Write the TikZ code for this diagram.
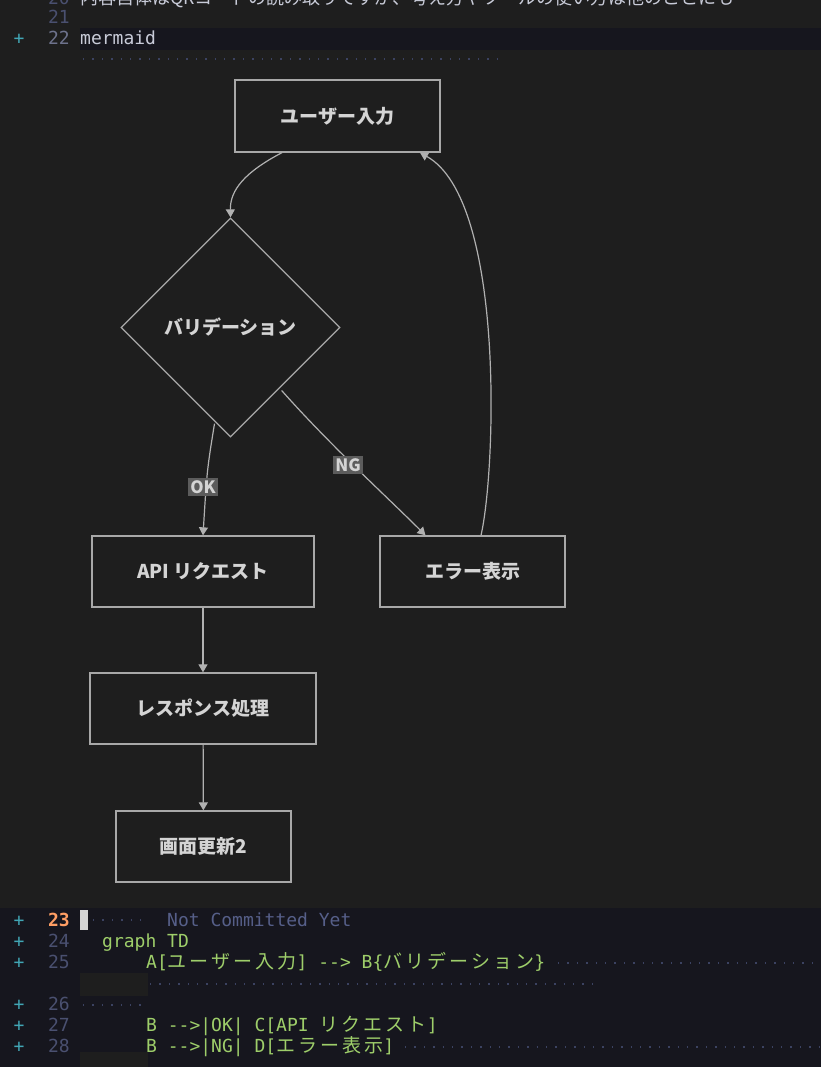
\documentclass[tikz,border=0pt]{standalone}
\usepackage{fontspec}
\setmainfont{Noto Sans CJK JP}
\newfontfamily\mono{DejaVu Sans Mono}
\newfontfamily\cjk{Noto Sans CJK JP}
\newfontfamily\cjkcode[LetterSpace=16]{Noto Sans CJK JP}
\usetikzlibrary{arrows.meta,calc,shapes.geometric}
\definecolor{bgtop}{HTML}{1E1E1E}
\definecolor{bgcode}{HTML}{16161E}
\definecolor{ln}{HTML}{4A5070}
\definecolor{lnact}{HTML}{FF9E64}
\definecolor{plus}{HTML}{41A6B5}
\definecolor{codeg}{HTML}{9ECE6A}
\definecolor{cmt}{HTML}{565F89}
\definecolor{dots}{HTML}{3B4261}
\definecolor{boxline}{HTML}{A8A8A8}
\definecolor{boxtext}{HTML}{D4D4D4}
\definecolor{lblbg}{HTML}{5C5C5C}
\definecolor{toptext}{HTML}{C8CBD8}
\newcommand{\jc}[1]{{\cjkcode\fontsize{19}{20}\selectfont #1}}
\begin{document}
\begin{tikzpicture}[x=1pt,y=-1pt,
  box/.style={draw=boxline,line width=1.3pt,fill=bgtop,text=boxtext,font=\fontsize{19}{21}\selectfont\bfseries,inner sep=0pt},
  edge/.style={draw=boxline!90!white,line width=1.2pt,-{Triangle[length=8pt,width=9pt]}},
  lbl/.style={fill=lblbg,text=boxtext,font=\fontsize{17}{19}\selectfont\bfseries,inner sep=2pt},
  codet/.style={anchor=base west,inner sep=0pt,font=\mono\fontsize{18}{20}\selectfont},
  lnum/.style={anchor=base east,inner sep=0pt,font=\mono\fontsize{18}{20}\selectfont,text=ln},
  pl/.style={anchor=base,inner sep=0pt,font=\mono\fontsize{18}{20}\selectfont,text=plus},
  dotl/.style={dots,line width=1.4pt,dash pattern=on 1.4pt off 8pt}]
\fill[bgtop] (0,0) rectangle (821,1067);
\useasboundingbox (0,0) rectangle (821,1067);
% top editor lines (line 20 is cut by the window edge)
\begin{scope}
\clip (0,0) rectangle (821,1067);
\node[anchor=base west,inner sep=0pt,text=toptext,font=\cjk\fontsize{18}{20}\selectfont] (t20) at (80,5) {内容自体はQRコードの読み取りですが、考え方やツールの使い方は他のことにも};
\node[lnum] (n20) at (70,5) {20};
\end{scope}
\node[lnum] (n21) at (70,24) {21};
\fill[bgcode] (80,28) rectangle (821,50);
\node[lnum,text=ln!80!white] (n22) at (70,45) {22};
\node[pl] (p22) at (19,45) {+};
\node[codet,text=toptext] (m22) at (80,45) {mermaid};
\draw[dotl] (83,59) -- (505,59);
% diagram nodes
\node[box,minimum width=205pt,minimum height=72pt] (A) at (337.5,116) {ユーザー入力};
\node[box,diamond,minimum width=219pt,minimum height=219pt] (B) at (230.5,327.5) {バリデーション};
\node[box,minimum width=222pt,minimum height=71pt] (C) at (203,571.5) {API リクエスト};
\node[box,minimum width=185pt,minimum height=71pt] (D) at (472.5,571.5) {エラー表示};
\node[box,minimum width=226pt,minimum height=71pt] (E) at (203,708.5) {レスポンス処理};
\node[box,minimum width=175pt,minimum height=71pt] (F) at (203.5,846.5) {画面更新2};
% edges
\draw[edge] ($(A.south)+(-55.5,0)$) .. controls (245,172) and (230,190) .. (B.north);
\draw[edge] ($(B.south)+(-16,-14)$) .. controls (207,470) .. (C.north);
\draw[edge] ($(B.east)+(-59,63)$) .. controls (330,445) and (385,495) .. ($(D.north)+(-47,0)$);
\draw[edge] ($(D.north)+(8.5,0)$) .. controls (496,470) and (505,200) .. ($(A.south)+(82.5,0)$);
\draw[edge] (C) -- (E);
\draw[edge] (E) -- (F);
\node[lbl] (ok) at (203,487) {OK};
\node[lbl] (ng) at (348,465) {NG};
% bottom code area
\fill[bgcode] (0,908) rectangle (821,1067);
\fill[bgtop] (80,973) rectangle (148,996);
\fill[bgtop] (80,1052) rectangle (148,1067);
\fill[boxtext] (80,910) rectangle (88,930);
\node[lnum,text=lnact,font=\mono\fontsize{18}{20}\selectfont\bfseries] (n23) at (70,926) {23};
\node[lnum] (n24) at (70,947) {24};
\node[lnum] (n25) at (70,968) {25};
\node[lnum] (n26) at (70,1010) {26};
\node[lnum] (n27) at (70,1031) {27};
\node[lnum] (n28) at (70,1052) {28};
\foreach \y/\n in {926/a,947/b,968/c,1010/d,1031/e,1052/f} \node[pl] (p\n) at (19,\y) {+};
\draw[dotl] (93,920) -- (145,920);
\node[codet,text=cmt] (c23) at (167,926) {Not Committed Yet};
\node[codet,text=codeg] (c24) at (102,947) {graph TD};
\node[codet,text=codeg] (c25) at (146,968) {A[\jc{ユーザー入力}] --> B\{\jc{バリデーション}\}};
\draw[dotl] (558,963) -- (821,963);
\draw[dotl] (150,984) -- (595,984);
\draw[dotl] (83,1005) -- (141,1005);
\node[codet,text=codeg] (c27) at (146,1031) {B -->|OK| C[API \jc{リクエスト}]};
\node[codet,text=codeg] (c28) at (146,1052) {B -->|NG| D[\jc{エラー表示}]};
\draw[dotl] (405,1047) -- (821,1047);
\end{tikzpicture}
\end{document}
